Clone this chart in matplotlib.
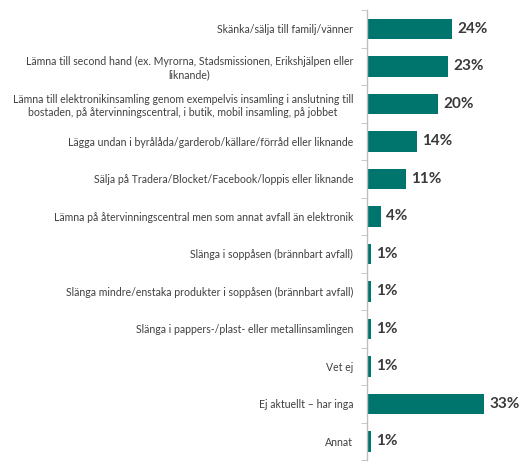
import numpy as np
import matplotlib
matplotlib.use('Agg')
import matplotlib.pyplot as plt

plt.rcParams['font.family'] = ['Lato', 'DejaVu Sans']

categories = [
    'Skänka/sälja till familj/vänner',
    'Lämna till second hand (ex. Myrorna, Stadsmissionen, Erikshjälpen eller\nliknande)',
    'Lämna till elektronikinsamling genom exempelvis insamling i anslutning till\nbostaden, på återvinningscentral, i butik, mobil insamling, på jobbet',
    'Lägga undan i byrålåda/garderob/källare/förråd eller liknande',
    'Sälja på Tradera/Blocket/Facebook/loppis eller liknande',
    'Lämna på återvinningscentral men som annat avfall än elektronik',
    'Slänga i soppåsen (brännbart avfall)',
    'Slänga mindre/enstaka produkter i soppåsen (brännbart avfall)',
    'Slänga i pappers-/plast- eller metallinsamlingen',
    'Vet ej',
    'Ej aktuellt – har inga',
    'Annat',
]
values = [24, 23, 20, 14, 11, 4, 1, 1, 1, 1, 33, 1]

teal = '#00756e'

fig = plt.figure(figsize=(5.25, 4.62), dpi=100)
ax = fig.add_axes([0.699, 0.004, 0.29, 0.974])

y = np.arange(len(categories))
ax.barh(y, values, height=0.55, color=teal)
ax.set_ylim(len(categories) - 0.5, -0.5)
ax.set_xlim(0, 43)

for yi, v in zip(y, values):
    ax.text(v + 1.5, yi, f'{v}%', va='center', ha='left',
            fontsize=11, fontweight='bold', color='#3a3a3a')

ax.set_yticks(y)
ax.set_yticklabels(categories, fontsize=7.6, color='#404040',
                   multialignment='center', linespacing=1.25)
ax.tick_params(axis='y', which='major', length=0, pad=10)
ax.set_yticks(np.arange(len(categories) + 1) - 0.5, minor=True)
ax.tick_params(axis='y', which='minor', length=4, color='#bfbfbf', direction='out')
ax.set_xticks([])

for side in ['top', 'right', 'bottom']:
    ax.spines[side].set_visible(False)
ax.spines['left'].set_color('#bfbfbf')
ax.spines['left'].set_linewidth(1)

fig.savefig('out.png', dpi=100)
